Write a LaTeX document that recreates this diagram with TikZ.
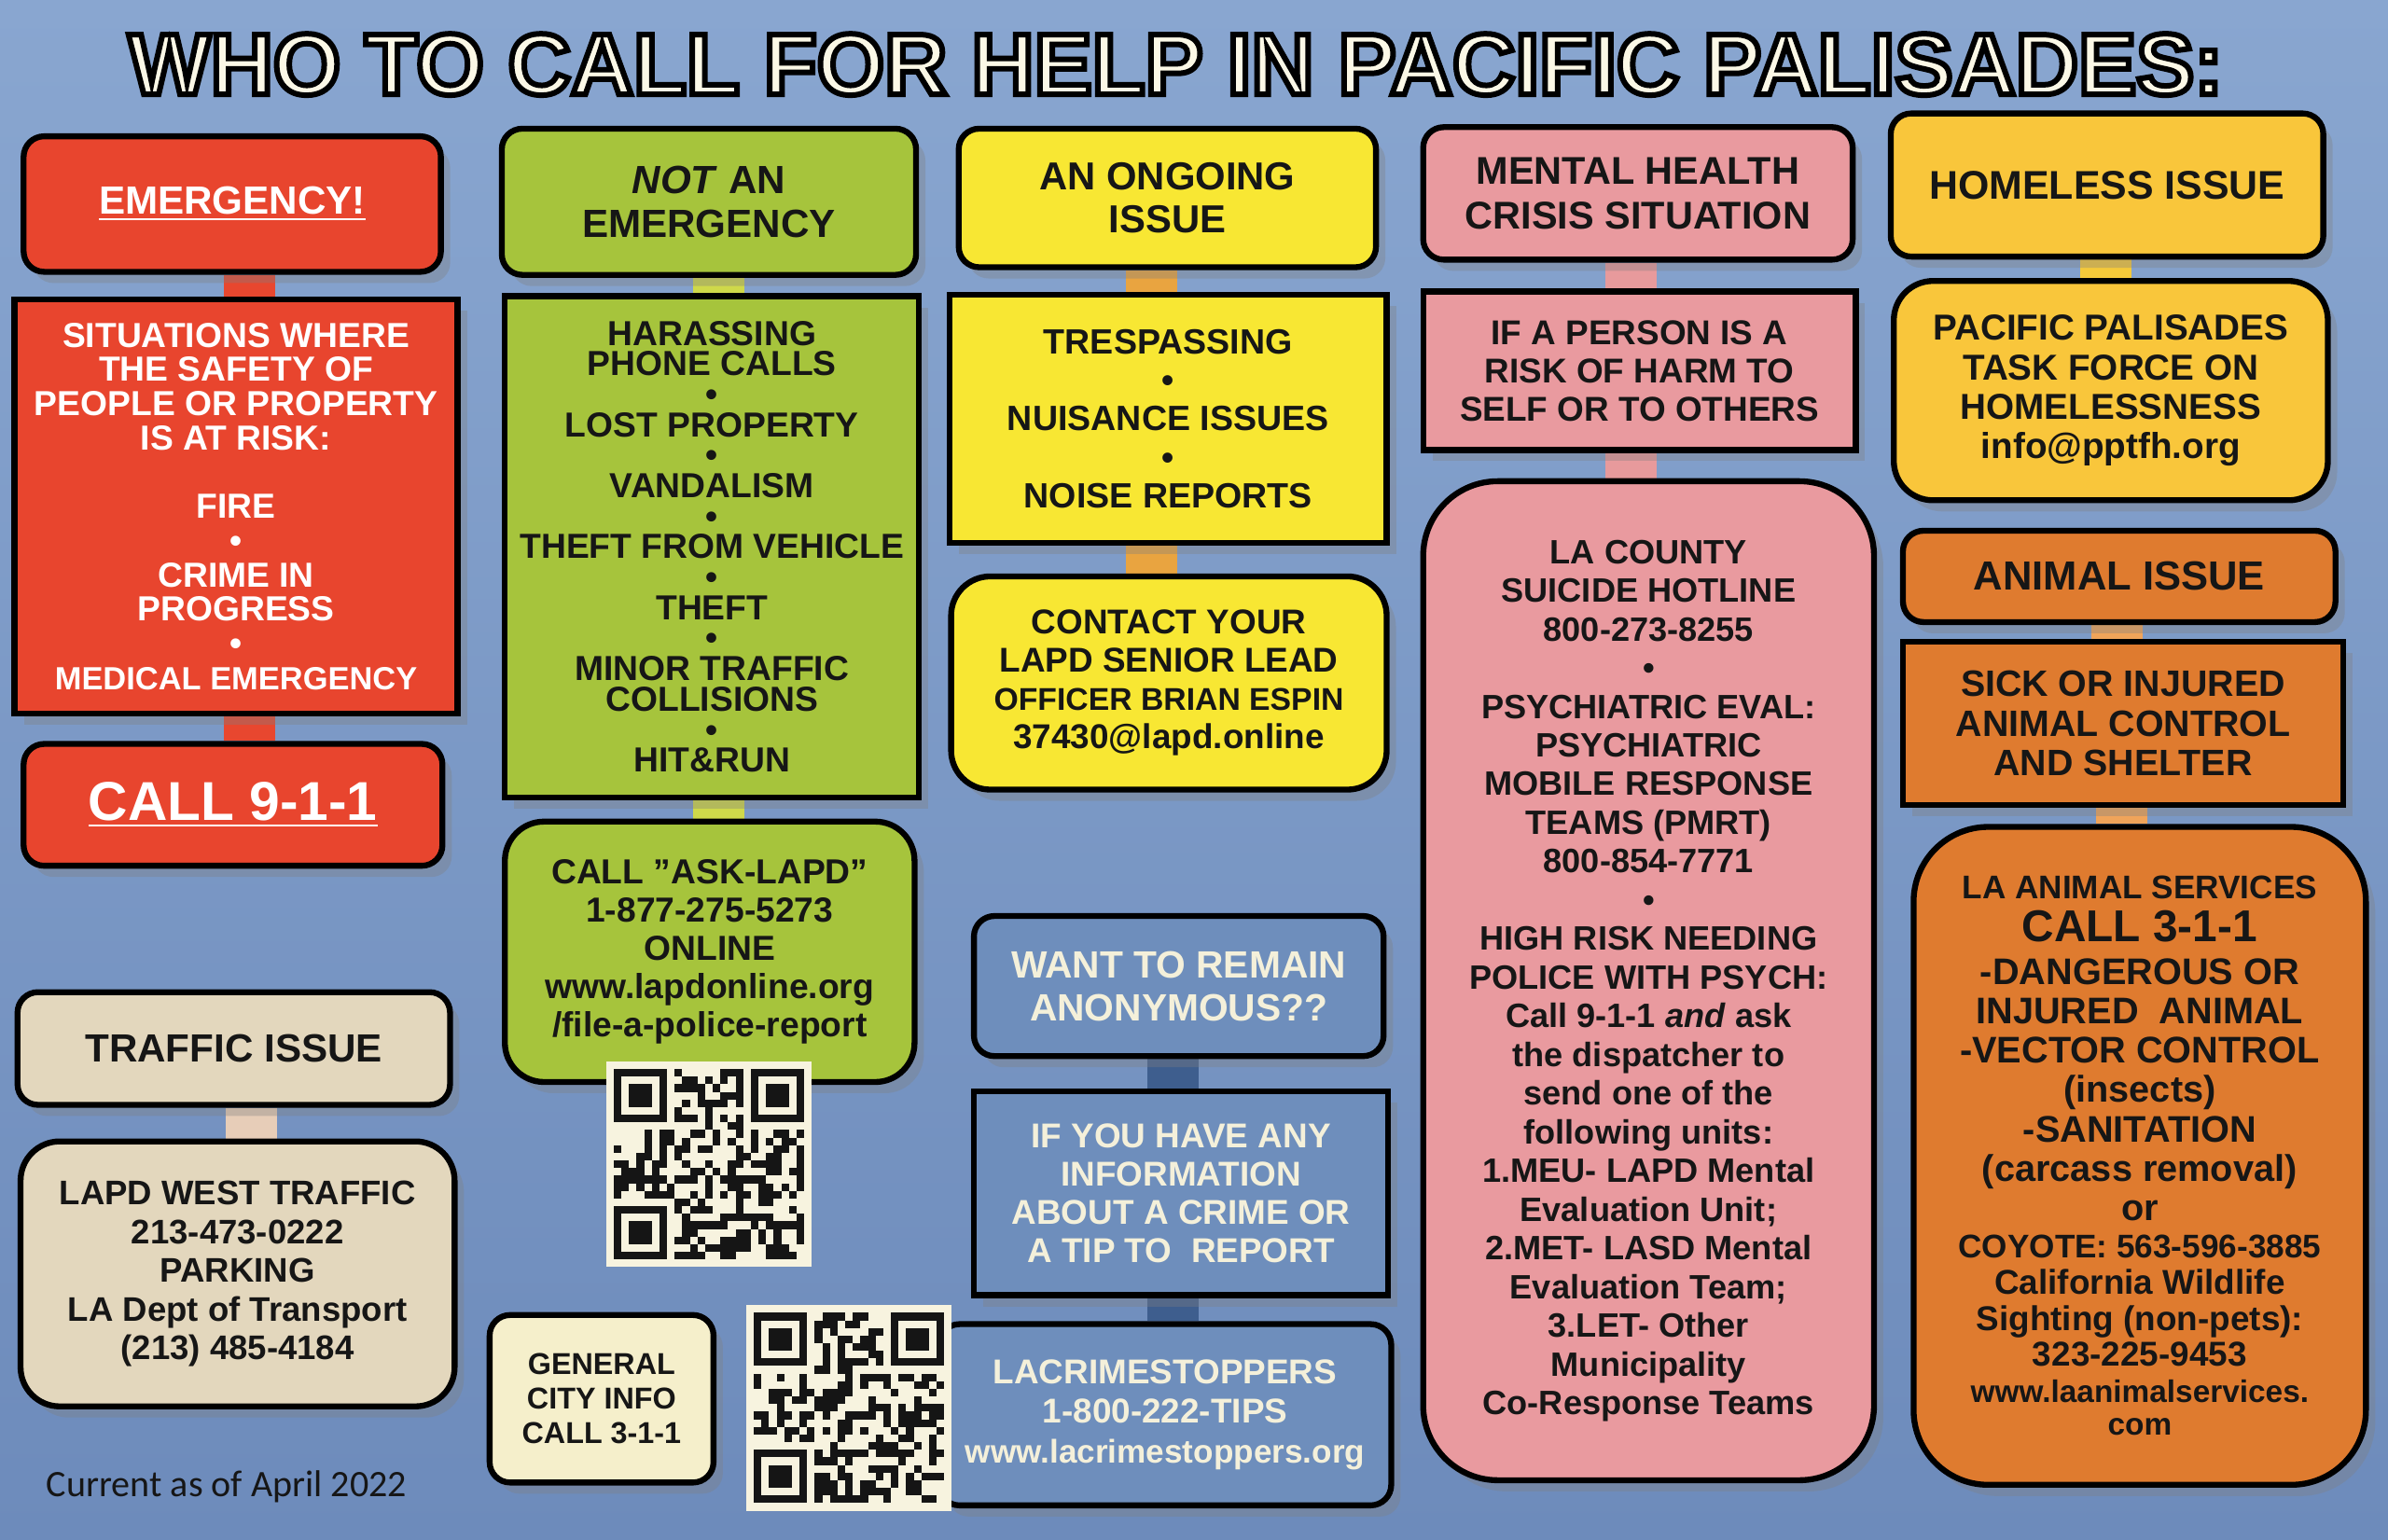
\documentclass[tikz,border=0pt]{standalone}
\usepackage{fontspec}
\setmainfont{Liberation Sans}
\newfontfamily\notefont{Carlito}
\usetikzlibrary{shadows}
\usetikzlibrary{backgrounds}

\definecolor{bgtop}{HTML}{89A6D0}
\definecolor{bgbot}{HTML}{6D8BBB}
\definecolor{inkc}{HTML}{161616}
\definecolor{titlec}{HTML}{FBF8E6}
\definecolor{redbox}{HTML}{E8452E}
\definecolor{greenbox}{HTML}{A6C43C}
\definecolor{yellowbox}{HTML}{F8E733}
\definecolor{pinkbox}{HTML}{E99A9F}
\definecolor{homebox}{HTML}{F9C63B}
\definecolor{orangebox}{HTML}{DF7B2F}
\definecolor{beigebox}{HTML}{E3D7BD}
\definecolor{creambox}{HTML}{F5EFCB}
\definecolor{bluebox}{HTML}{6E8EBC}
\definecolor{bluetext}{HTML}{F4F0DA}
\definecolor{barred}{HTML}{E8472F}
\definecolor{barbeige}{HTML}{E7CDB8}
\definecolor{bargreen}{HTML}{CFD94A}
\definecolor{barorange}{HTML}{E9A440}
\definecolor{barnavy}{HTML}{3E5E8E}
\definecolor{barpink}{HTML}{E79A9C}
\definecolor{barhome}{HTML}{F5C93A}
\definecolor{barlight}{HTML}{F0A45A}
\definecolor{qrpaper}{HTML}{F7F3DF}
\definecolor{qrink}{HTML}{151515}

\def\pxu{0.016327cm}
\newcommand{\fs}[2]{\fontsize{#1}{#2}\selectfont\bfseries}
% outlined letters: fill in text colour, black stroke
\newcommand{\outlined}[1]{\special{pdf:literal direct 0 0 0 RG 1.7 w 2 Tr}#1\special{pdf:literal direct 0 Tr}}

% pseudo QR patch: top-left x, top-left y, seed
\newcommand{\qrpatch}[3]{%
  \fill[qrpaper] (#1,#2) rectangle ++(135,135);
  \pgfmathsetseed{#3}
  \foreach \i in {0,...,24}{
    \foreach \j in {0,...,24}{
      \pgfmathtruncatemacro{\qrbit}{rnd<0.48}
      \ifnum\qrbit=1 \fill[qrink] ({#1+5+5*\i},{#2+5+5*\j}) rectangle ++(5,5); \fi
    }
  }
  \foreach \fx/\fy in {0/0,18/0,0/18}{
    \fill[qrpaper] ({#1+5*\fx},{#2+5*\fy}) rectangle ++(45,45);
    \fill[qrink] ({#1+5+5*\fx},{#2+5+5*\fy}) rectangle ++(35,35);
    \fill[qrpaper] ({#1+10+5*\fx},{#2+10+5*\fy}) rectangle ++(25,25);
    \fill[qrink] ({#1+15+5*\fx},{#2+15+5*\fy}) rectangle ++(15,15);
  }
}

\begin{document}
\begin{tikzpicture}[x=\pxu, y=-\pxu,
  box/.style={draw=black, line width=1.8pt, align=center, inner sep=0pt, text=inkc,
    drop shadow={opacity=0.35, shadow xshift=0.1cm, shadow yshift=-0.12cm}},
  hdr/.style={box, rounded corners=0.22cm},
  lst/.style={box},
  info/.style={box, rounded corners=0.42cm},
  tall/.style={box, rounded corners=0.8cm},
  bar/.style={line width=0.55cm}]
\useasboundingbox (0,0) rectangle (1568,1011);
\begin{scope}[on background layer]
\shade[top color=bgtop, bottom color=bgbot] (0,0) rectangle (1568,1011);
\end{scope}

% emergencies
\node[hdr, fill=redbox, text=white, minimum width={274*\pxu}, minimum height={89*\pxu}, font={\fs{12}{14}}] (emerg) at (152.5,134) {\underline{EMERGENCY!}};
\node[lst, fill=redbox, text=white, minimum width={291*\pxu}, minimum height={272*\pxu}, font={\fs{10.6}{10.45}}] (sit) at (155,332.5) {SITUATIONS WHERE\\THE SAFETY OF\\PEOPLE OR PROPERTY\\IS AT RISK:\\[10.45pt]FIRE\\•\\CRIME IN\\PROGRESS\\•\\{\fontsize{9.8}{10.45}\selectfont MEDICAL EMERGENCY}};
\node[hdr, fill=redbox, text=white, minimum width={275*\pxu}, minimum height={80*\pxu}, font={\fs{16.7}{18}}] (call911) at (153,528.5) {\underline{CALL 9-1-1}};
\node[hdr, fill=beigebox, minimum width={284*\pxu}, minimum height={74*\pxu}, font={\fs{12}{14}}] (traffic) at (153.5,688.5) {TRAFFIC ISSUE};
\node[info, fill=beigebox, minimum width={285*\pxu}, minimum height={174*\pxu}, font={\fs{10.4}{11.8}}] (westtraffic) at (156,836.5) {LAPD WEST TRAFFIC\\213-473-0222\\PARKING\\LA Dept of Transport\\(213) 485-4184};

% not an emergency
\node[hdr, fill=greenbox, minimum width={272*\pxu}, minimum height={96*\pxu}, font={\fs{12}{13.5}}] (notemerg) at (465.5,132.5) {\textit{NOT} AN\\EMERGENCY};
\node[lst, fill=greenbox, minimum width={272*\pxu}, minimum height={329*\pxu}, font={\fs{10.6}{9.3}}] (nonlist) at (467.5,359) {HARASSING\\PHONE CALLS\\•\\LOST PROPERTY\\•\\VANDALISM\\•\\THEFT FROM VEHICLE\\•\\THEFT\\•\\MINOR TRAFFIC\\COLLISIONS\\•\\HIT\&RUN};
\node[info, fill=greenbox, minimum width={269*\pxu}, minimum height={171*\pxu}, font={\fs{10.6}{11.7}}] (asklapd) at (466,625) {CALL ”ASK-LAPD”\\1-877-275-5273\\ONLINE\\www.lapdonline.org\\/file-a-police-report};
\node[hdr, fill=creambox, minimum width={147*\pxu}, minimum height={110*\pxu}, font={\fs{9.2}{10.5}}] (cityinfo) at (395,918.5) {GENERAL\\CITY INFO\\CALL 3-1-1};

% ongoing issue
\node[hdr, fill=yellowbox, minimum width={274*\pxu}, minimum height={91*\pxu}, font={\fs{11.9}{13}}] (ongoing) at (766.5,130) {AN ONGOING\\ISSUE};
\node[lst, fill=yellowbox, minimum width={287*\pxu}, minimum height={163*\pxu}, font={\fs{10.7}{11.7}}] (trespass) at (767,275) {TRESPASSING\\•\\NUISANCE ISSUES\\•\\NOISE REPORTS};
\node[info, fill=yellowbox, minimum width={286*\pxu}, minimum height={140*\pxu}, font={\fs{10.5}{11.65}}] (espin) at (767.5,448.5) {CONTACT YOUR\\LAPD SENIOR LEAD\\{\fontsize{9.6}{11.65}\selectfont OFFICER BRIAN ESPIN}\\37430@lapd.online};
\node[hdr, fill=bluebox, text=bluetext, minimum width={269*\pxu}, minimum height={92*\pxu}, font={\fs{11.6}{13}}] (anon) at (774,647.5) {WANT TO REMAIN\\ANONYMOUS??};
\node[lst, fill=bluebox, text=bluetext, minimum width={272*\pxu}, minimum height={134*\pxu}, font={\fs{10.5}{11.7}}] (tipinfo) at (775.5,783.5) {IF YOU HAVE ANY\\INFORMATION\\ABOUT A CRIME OR\\A TIP TO\ \ REPORT};
\node[hdr, fill=bluebox, text=bluetext, minimum width={297*\pxu}, minimum height={119*\pxu}, font={\fs{10.5}{12}}] (crimestop) at (765,929) {LACRIMESTOPPERS\\1-800-222-TIPS\\{\fontsize{10}{12}\selectfont www.lacrimestoppers.org}};

% mental health
\node[hdr, fill=pinkbox, minimum width={282*\pxu}, minimum height={87*\pxu}, font={\fs{11.8}{13.5}}] (mental) at (1075.5,127) {MENTAL HEALTH\\CRISIS SITUATION};
\node[lst, fill=pinkbox, minimum width={284*\pxu}, minimum height={104*\pxu}, font={\fs{10.5}{11.7}}] (harm) at (1076.5,243.5) {IF A PERSON IS A\\RISK OF HARM TO\\SELF OR TO OTHERS};
\node[tall, fill=pinkbox, minimum width={296*\pxu}, minimum height={656*\pxu}, font={\fs{10.3}{11.8}}] (hotline) at (1082.5,644) {LA COUNTY\\SUICIDE HOTLINE\\800-273-8255\\•\\PSYCHIATRIC EVAL:\\PSYCHIATRIC\\MOBILE RESPONSE\\TEAMS (PMRT)\\800-854-7771\\•\\HIGH RISK NEEDING\\POLICE WITH PSYCH:\\Call 9-1-1 \textit{and} ask\\the dispatcher to\\send one of the\\following units:\\1.MEU- LAPD Mental\\Evaluation Unit;\\2.MET- LASD Mental\\Evaluation Team;\\3.LET- Other\\Municipality\\Co-Response Teams};

% homeless and animals
\node[hdr, fill=homebox, minimum width={284*\pxu}, minimum height={94*\pxu}, font={\fs{12.2}{14}}] (homeless) at (1383.5,121.5) {HOMELESS ISSUE};
\node[info, fill=homebox, minimum width={285*\pxu}, minimum height={144*\pxu}, font={\fs{11}{12}}] (taskforce) at (1386,256.5) {PACIFIC PALISADES\\TASK FORCE ON\\HOMELESSNESS\\info@pptfh.org};
\node[hdr, fill=orangebox, minimum width={284*\pxu}, minimum height={60*\pxu}, font={\fs{12.4}{14}}] (animal) at (1391.5,378.5) {ANIMAL ISSUE};
\node[lst, fill=orangebox, minimum width={289*\pxu}, minimum height={107*\pxu}, font={\fs{11.2}{12}}] (shelter) at (1394,475) {SICK OR INJURED\\ANIMAL CONTROL\\AND SHELTER};
\node[tall, fill=orangebox, minimum width={297*\pxu}, minimum height={432*\pxu}, font={\fs{11.3}{12}}] (services) at (1405,759) {{\fontsize{10}{12}\selectfont LA ANIMAL SERVICES}\\[1pt]{\fontsize{13.6}{12}\selectfont CALL 3-1-1}\\[1pt]-DANGEROUS OR\\INJURED\ \ ANIMAL\\-VECTOR CONTROL\\(insects)\\-SANITATION\\(carcass removal)\\or\\[-0.5pt]{\fontsize{10}{12}\selectfont COYOTE: 563-596-3885}\\[-1pt]{\fontsize{10.5}{12}\selectfont California Wildlife}\\[-1pt]{\fontsize{10.5}{12}\selectfont Sighting (non-pets):}\\[-1pt]{\fontsize{10.5}{12}\selectfont 323-225-9453}\\[-1pt]{\fontsize{9.5}{12}\selectfont www.laanimalservices.}\\[-2pt]{\fontsize{9.5}{12}\selectfont com}};

\node[anchor=base west, text=inkc, font={\notefont\fontsize{11.4}{14}\selectfont}] (asof) at (23,983) {Current as of April 2022};

% posts between the boxes
\begin{scope}[on background layer]
\foreach \a/\b/\sa/\sb/\c in {emerg/sit/11.5/9/barred, sit/call911/9/11/barred, traffic/westtraffic/11.5/9/barbeige,
  notemerg/nonlist/6.5/4.5/bargreen, nonlist/asklapd/4.5/6/bargreen,
  ongoing/trespass/-10.5/-11/barorange, trespass/espin/-11/-11.5/barorange,
  anon/tipinfo/-4/-5.5/barnavy, tipinfo/crimestop/-5.5/5/barnavy,
  mental/harm/-4.5/-5.5/barpink, harm/hotline/-5.5/-11.5/barpink,
  homeless/taskforce/-0.5/-3/barhome, animal/shelter/-1.5/-4/barlight, shelter/services/-1/-12/barlight}
  \draw[bar, draw=\c] ([xshift=\sa*\pxu]\a.south) -- ([xshift=\sb*\pxu]\b.north);
\end{scope}

% QR codes
\qrpatch{398}{697}{7}
\qrpatch{490}{857}{19}

\node[anchor=base, text=titlec, font={\fontsize{26.5}{30}\selectfont\bfseries}] (title) at (772,62) {\outlined{WHO TO CALL FOR HELP IN PACIFIC PALISADES:}};
\end{tikzpicture}
\end{document}
